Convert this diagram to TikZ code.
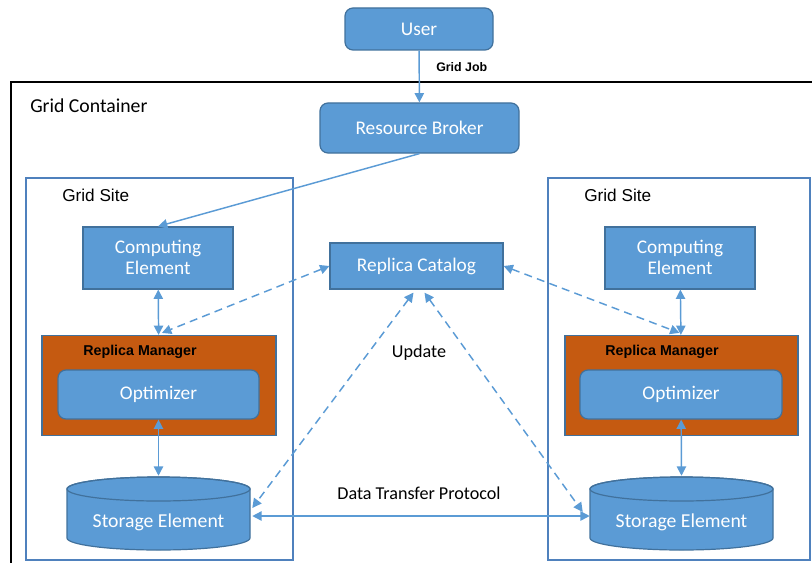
\documentclass[tikz,border=0pt]{standalone}
\usepackage{fontspec}
\setmainfont{Carlito}
\newfontfamily\arialf{Liberation Sans}
\usetikzlibrary{arrows.meta,calc}
\definecolor{bfill}{HTML}{5B9BD5}
\definecolor{bord}{HTML}{41719C}
\definecolor{lnc}{HTML}{5B9BD5}
\definecolor{sitec}{HTML}{4F81BD}
\definecolor{orng}{HTML}{C55A11}
\tikzset{
  bx/.style={draw=bord, fill=bfill, text=white, font=\fontsize{14.5}{16}\selectfont, line width=0.9pt, inner sep=0pt, align=center},
  rbx/.style={bx, rounded corners=6pt},
  arr/.style={draw=lnc, line width=1.1pt, {Triangle[length=7pt,width=7pt]}-{Triangle[length=7pt,width=7pt]}},
  sarr/.style={draw=lnc, line width=1.1pt, -{Triangle[length=7pt,width=7pt]}},
  darr/.style={arr, dash pattern=on 6pt off 4pt},
  site/.style={draw=sitec, line width=0.9pt},
  lbl/.style={text=black, inner sep=0pt},
  cyl/.style={fill=bfill, draw=bord, line width=0.9pt},
}
\begin{document}
\begin{tikzpicture}[x=0.75pt,y=-0.75pt]
\useasboundingbox (0,0) rectangle (812,563);
% grid container
\draw[black, line width=1.3pt] (812,82) -- (11,82) -- (11,563);
\node[lbl, font=\fontsize{14.8}{16}\selectfont, anchor=west] (gc) at (30,106) {Grid Container};
% grid sites
\draw[site] (26,178) rectangle (293,560);
\draw[site] (548,178) rectangle (810,560);
\node[lbl, font=\arialf\fontsize{12.9}{14}\selectfont, anchor=west] (gs1) at (62,195) {Grid Site};
\node[lbl, font=\arialf\fontsize{12.9}{14}\selectfont, anchor=west] (gs2) at (584,195) {Grid Site};
% top nodes
\node[rbx, minimum width=111pt, minimum height=31.5pt] (user) at (419,29) {User};
\node[rbx, minimum width=149.25pt, minimum height=37.5pt] (rb) at (419.5,128) {Resource Broker};
\node[bx, minimum width=129.75pt, minimum height=34.5pt] (rc) at (416.5,266) {\raisebox{1.5pt}{Replica Catalog}};
% left site
\node[bx, minimum width=112.5pt, minimum height=46.5pt] (ce1) at (158,258) {\raisebox{1pt}{\shortstack{Computing\\Element}}};
\node[draw=bord, fill=orng, line width=0.9pt, minimum width=175.5pt, minimum height=75pt, inner sep=0pt] (rm1) at (159,385.5) {};
\node[lbl, font=\arialf\bfseries\fontsize{10.7}{12}\selectfont] (rml1) at (140,352) {Replica Manager};
\node[rbx, minimum width=150.75pt, minimum height=36.75pt] (op1) at (158.5,394.5) {\raisebox{3pt}{Optimizer}};
% right site
\node[bx, minimum width=112.5pt, minimum height=46.5pt] (ce2) at (680,258) {\raisebox{1pt}{\shortstack{Computing\\Element}}};
\node[draw=bord, fill=orng, line width=0.9pt, minimum width=174.75pt, minimum height=75pt, inner sep=0pt] (rm2) at (681.5,385.5) {};
\node[lbl, font=\arialf\bfseries\fontsize{10.7}{12}\selectfont] (rml2) at (662,352) {Replica Manager};
\node[rbx, minimum width=151.5pt, minimum height=36.75pt] (op2) at (681,394.5) {\raisebox{3pt}{Optimizer}};
% storage cylinders
\draw[cyl] (67,489) -- (67,538) arc[start angle=180,end angle=0,x radius=91.5,y radius=12] -- (250,489) arc[start angle=0,end angle=-180,x radius=91.5,y radius=12] -- cycle;
\draw[draw=bord, line width=0.9pt] (158.5,489) ellipse [x radius=91.5, y radius=12];
\node[minimum width=137.25pt, minimum height=54pt, inner sep=0pt] (se1) at (158.5,514) {};
\node[text=white, font=\fontsize{14.8}{16}\selectfont, inner sep=0pt] (se1t) at (158.5,522) {Storage Element};
\draw[cyl] (590,489) -- (590,538) arc[start angle=180,end angle=0,x radius=91.5,y radius=12] -- (773,489) arc[start angle=0,end angle=-180,x radius=91.5,y radius=12] -- cycle;
\draw[draw=bord, line width=0.9pt] (681.5,489) ellipse [x radius=91.5, y radius=12];
\node[minimum width=137.25pt, minimum height=54pt, inner sep=0pt] (se2) at (681.5,514) {};
\node[text=white, font=\fontsize{14.8}{16}\selectfont, inner sep=0pt] (se2t) at (681.5,522) {Storage Element};
% labels
\node[lbl, font=\arialf\bfseries\fontsize{9.3}{11}\selectfont, anchor=west] (gj) at (436,67) {Grid Job};
\node[lbl, font=\fontsize{13.6}{15}\selectfont] (upd) at (419,353) {Update};
\node[lbl, font=\fontsize{13.6}{15}\selectfont] (dtp) at (419,493) {Data Transfer Protocol};
% connectors
\draw[sarr] (user) -- (rb);
\draw[sarr] (rb.south) -- (ce1.north);
\draw[arr] (ce1) -- (rm1);
\draw[arr] (op1) -- ($(se1.north)+(0,-2)$);
\draw[arr] (ce2) -- (rm2);
\draw[arr] (op2) -- ($(se2.north)+(0,-2)$);
\draw[arr] ($(se1.east)+(2,2)$) -- ($(se2.west)+(0,2)$);
\draw[darr] (rc.west) -- ($(rm1.north)+(3,-2)$);
\draw[darr] (rc.east) -- ($(rm2.north)+(-2,-2)$);
\draw[darr] ($(rc.south)+(-3,3)$) -- ($(se1.east)+(2,-6)$);
\draw[darr] ($(rc.south)+(8,3)$) -- ($(se2.west)+(-7,-2)$);
\end{tikzpicture}
\end{document}
